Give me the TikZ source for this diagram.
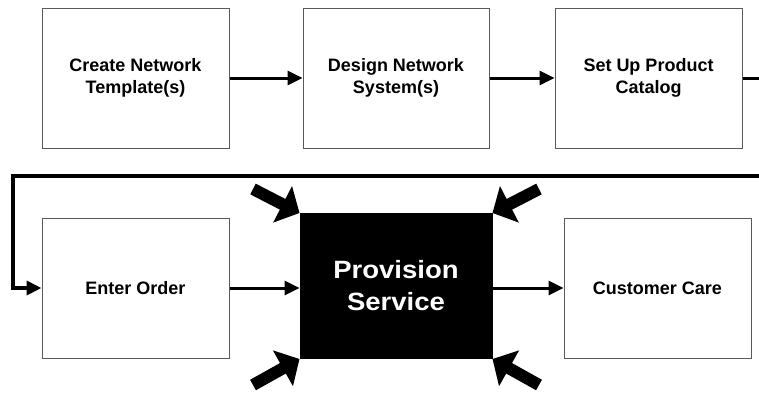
\documentclass[tikz,border=0pt]{standalone}
\usepackage{fontspec}
\setmainfont{Liberation Sans}[BoldFont={* Bold}]
\newfontfamily\widebold{Liberation Sans Bold}[FakeStretch=1.1]
\usetikzlibrary{arrows.meta}

\tikzset{
  stepbox/.style={draw=black!65, line width=1pt, fill=white,
    minimum width=187pt, minimum height=140pt, align=center,
    font=\bfseries\fontsize{18}{22}\selectfont, inner sep=0pt},
  keybox/.style={draw=black, fill=black, text=white, line width=1pt,
    minimum width=192pt, minimum height=145pt, align=center,
    font=\widebold\fontsize{25}{32}\selectfont, inner sep=0pt},
  flow/.style={line width=3pt, -{Triangle[length=15pt,width=14pt]}},
  loopline/.style={line width=4pt, line cap=butt, line join=miter},
  fatarrow/.style={line width=12pt, -{Triangle[length=19pt,width=40pt]}}
}

\begin{document}
\begin{tikzpicture}[x=1pt, y=-1pt]
  \useasboundingbox[fill=white] (0,0) rectangle (759,394);
  \clip (0,0) rectangle (759,394);

  % top row
  \node[stepbox] (tmpl) at (135.5,78) {Create Network\\Template(s)};
  \node[stepbox, minimum width=186pt] (design) at (396,78) {Design Network\\System(s)};
  \node[stepbox] (catalog) at (648.5,78) {Set Up Product\\Catalog};

  % bottom row
  \node[stepbox] (order) at (135.5,288) {Enter Order};
  \node[keybox] (prov) at (396,286) {Provision\\Service};
  \node[stepbox] (care) at (657.5,288) {Customer Care};

  % connectors of the top row
  \draw[flow] (tmpl.east) -- (design.west);
  \draw[flow] (design.east) -- (catalog.west);

  % connector leaving the catalog and coming back round to the order
  \coordinate (exitR) at (765,78);
  \draw[line width=3pt] (catalog.east) -- (exitR);
  \coordinate (loopR) at (765,176);
  \coordinate (loopL) at (13,176);
  \draw[loopline, -{Triangle[length=15pt,width=14pt]}] (loopR) -- (loopL) |- (order.west);

  % connectors of the bottom row, kept level
  \draw[flow] (order.east) -- (order.east -| prov.west);
  \draw[flow] (order.east -| prov.east) -- (care.west);

  % heavy arrows pointing at the corners of the provisioning step
  \coordinate (ulTail) at (253,189);
  \coordinate (urTail) at (539,189);
  \coordinate (llTail) at (253,385);
  \coordinate (lrTail) at (539,385);
  \draw[fatarrow] (ulTail) -- (prov.north west);
  \draw[fatarrow] (urTail) -- (prov.north east);
  \draw[fatarrow] (llTail) -- (prov.south west);
  \draw[fatarrow] (lrTail) -- (prov.south east);
\end{tikzpicture}
\end{document}
